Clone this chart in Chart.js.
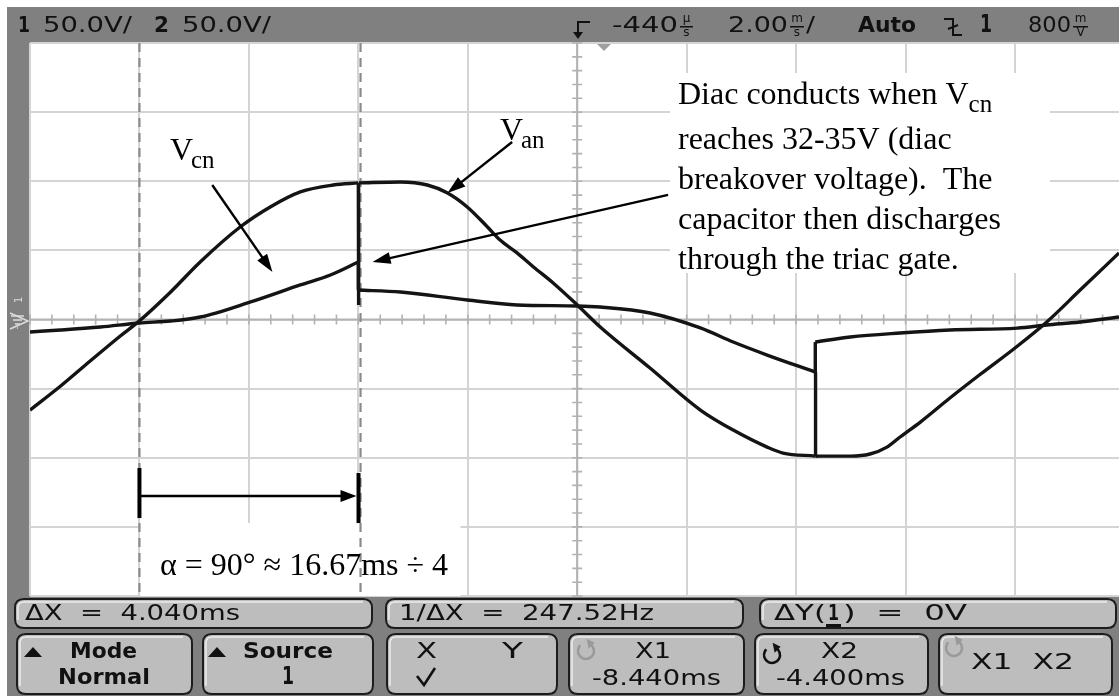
<!DOCTYPE html>
<html><head><meta charset="utf-8">
<script src="https://cdn.jsdelivr.net/npm/chart.js@4.4.1/dist/chart.umd.min.js"></script>
<style>html,body{margin:0;padding:0;background:#fff;overflow:hidden}</style>
</head><body>
<canvas id="c" width="1119" height="696"></canvas>
<script>
// ---- data (time in ms, voltage in V) ----
const tVan = [-10.44,-9.88,-9.34,-8.79,-8.44,-7.87,-7.33,-6.60,-6.05,-5.50,-4.90,-4.44,-4.44,-4.43,-3.67,-3.18,-2.81,-2.45,-2.08,-1.85,-1.54,-1.24,-0.88,-0.44,-0.02,0.89,1.81,2.41,3.03,3.32,3.91,3.91,3.92,4.55,4.91,5.22,5.46,5.83,6.37,6.92,7.56,8.14,8.75,9.46];
const vVan = [-65.5,-48.1,-30.0,-11.9,-1.0,19.9,41.6,66.9,81.4,92.3,97.3,98.8,10.5,98.8,99.5,97.3,91.5,81.4,66.9,57.5,48.2,38.0,26.4,10.5,-5.4,-35.1,-65.5,-80.0,-92.3,-96.6,-98.8,-38.0,-98.8,-98.8,-97.3,-92.3,-85.0,-74.2,-56.8,-39.8,-20.6,-1.8,21.3,48.1];
const tVcn = [-10.44,-9.88,-9.15,-8.44,-7.87,-7.33,-6.41,-5.50,-4.95,-4.44,-4.44,-3.67,-2.45,-1.54,-0.44,-0.02,0.89,1.81,2.41,3.03,3.91,3.91,4.55,5.46,6.37,7.60,8.14,8.75,9.46];
const vVcn = [-9.0,-7.6,-5.4,-2.5,-1.1,1.8,12.7,25.0,32.2,41.6,21.3,19.9,14.1,10.5,9.8,9.0,4.7,-6.1,-16.3,-25.7,-38.0,-16.3,-12.7,-9.8,-7.6,-6.2,-4.0,-1.8,1.8];
const timeTicks = [-10.44,-8.44,-6.44,-4.44,-2.44,-0.44,1.56,3.56,5.56,7.56];
const voltTicks = [-200,-150,-100,-50,0,50,100,150,200];
const timeRange = [-10.44, 9.46];
const voltRange = [-200, 200];
const cursorX1 = -8.44, cursorX2 = -4.40;
const centerTime = -0.44;
const diacLines = ["Diac conducts when V","reaches 32-35V (diac","breakover voltage).  The","capacitor then discharges","through the triac gate."];

const SERIF = '"Liberation Serif","Times New Roman",serif';
const SANS = '"DejaVu Sans",sans-serif';

// split a trace into smooth runs and near-vertical switching edges
function traceDatasets(ts, vs, label){
  const isJump = i => (ts[i+1] - ts[i]) < 0.015;
  const out = []; let start = 0;
  for (let i = 0; i < ts.length - 1; i++){
    const j = isJump(i);
    const last = i === ts.length - 2;
    if (last || isJump(i+1) !== j){
      const pts = [];
      for (let k = start; k <= i+1; k++) pts.push({ x: ts[k], y: vs[k] });
      out.push({ label: label, data: pts, borderColor: '#141414', borderWidth: 3.4, pointRadius: 0,
                 fill: false, tension: 0, cubicInterpolationMode: j ? 'default' : 'monotone' });
      start = i+1;
    }
  }
  return out;
}

function fitText(ctx, s, x, y, w, font, color){
  ctx.save(); ctx.font = font; ctx.fillStyle = color || '#111';
  ctx.textBaseline = 'middle'; ctx.textAlign = 'left';
  const m = ctx.measureText(s).width; const k = w / m;
  ctx.translate(x, y); ctx.scale(k, 1); ctx.fillText(s, 0, 0); ctx.restore();
}
function rrect(ctx, x, y, w, h, r){
  ctx.beginPath(); ctx.moveTo(x+r,y); ctx.lineTo(x+w-r,y); ctx.quadraticCurveTo(x+w,y,x+w,y+r);
  ctx.lineTo(x+w,y+h-r); ctx.quadraticCurveTo(x+w,y+h,x+w-r,y+h); ctx.lineTo(x+r,y+h);
  ctx.quadraticCurveTo(x,y+h,x,y+h-r); ctx.lineTo(x,y+r); ctx.quadraticCurveTo(x,y,x+r,y); ctx.closePath();
}
function key(ctx, x1, y1, x2, y2){
  rrect(ctx, x1, y1, x2-x1, y2-y1, 9);
  ctx.fillStyle = '#bdbdbd'; ctx.fill();
  ctx.lineWidth = 2; ctx.strokeStyle = '#1c1c1c'; ctx.stroke();
  ctx.save(); ctx.strokeStyle = '#ececec'; ctx.lineWidth = 1.5;
  ctx.beginPath(); ctx.moveTo(x1+3, y2-8); ctx.lineTo(x1+3, y1+9); ctx.quadraticCurveTo(x1+3,y1+3,x1+9,y1+3); ctx.lineTo(x2-9, y1+3); ctx.stroke();
  ctx.restore();
}
function arrowLine(ctx, x1, y1, x2, y2, head){
  const a = Math.atan2(y2-y1, x2-x1); head = head || 18;
  ctx.save(); ctx.strokeStyle = '#000'; ctx.fillStyle = '#000'; ctx.lineWidth = 2.4;
  ctx.beginPath(); ctx.moveTo(x1,y1); ctx.lineTo(x2 - Math.cos(a)*head*0.8, y2 - Math.sin(a)*head*0.8); ctx.stroke();
  ctx.beginPath(); ctx.moveTo(x2,y2);
  ctx.lineTo(x2 - head*Math.cos(a) + 6*Math.sin(a), y2 - head*Math.sin(a) - 6*Math.cos(a));
  ctx.lineTo(x2 - head*Math.cos(a) - 6*Math.sin(a), y2 - head*Math.sin(a) + 6*Math.cos(a));
  ctx.closePath(); ctx.fill(); ctx.restore();
}
function circArrow(ctx, cx, cy, r, color){
  ctx.save(); ctx.strokeStyle = color; ctx.fillStyle = color; ctx.lineWidth = 2.6;
  ctx.beginPath(); ctx.arc(cx, cy, r, -0.35*Math.PI, 1.25*Math.PI); ctx.stroke();
  const ex = cx + r*Math.cos(-0.35*Math.PI), ey = cy + r*Math.sin(-0.35*Math.PI);
  ctx.beginPath(); ctx.moveTo(ex+5, ey-1); ctx.lineTo(ex-3, ey-5); ctx.lineTo(ex-1, ey+5); ctx.closePath(); ctx.fill();
  ctx.restore();
}
function stacked(ctx, top, bot, x, w){
  ctx.save(); ctx.font = '12px ' + SANS; ctx.fillStyle = '#111'; ctx.textAlign = 'center'; ctx.textBaseline = 'middle';
  ctx.fillText(top, x + w/2, 19); ctx.fillText(bot, x + w/2, 33);
  ctx.fillRect(x+1, 26, w-2, 1.5); ctx.restore();
}

const scopePlugin = {
  id: 'scope',
  beforeDraw(chart){
    const ctx = chart.ctx; const W = chart.width, H = chart.height; const a = chart.chartArea;
    ctx.save();
    ctx.fillStyle = '#fff'; ctx.fillRect(0,0,W,H);
    ctx.fillStyle = '#808080';
    ctx.fillRect(7, 7, W-7, a.top-7);
    ctx.fillRect(7, a.top, a.left-7, a.bottom-a.top);
    ctx.fillRect(7, a.bottom, W-7, H-a.bottom);
    ctx.restore();
  },
  beforeDatasetsDraw(chart){
    const ctx = chart.ctx, xs = chart.scales.x, ys = chart.scales.y, a = chart.chartArea;
    ctx.save();
    ctx.fillStyle = '#fff';
    ctx.fillRect(670, 73, 380, 200);
    ctx.fillRect(xs.getPixelForValue(cursorX1)+1, 523, 320, a.bottom-523);
    const cx = xs.getPixelForValue(centerTime), cy = ys.getPixelForValue(0);
    ctx.strokeStyle = '#b2b2b2'; ctx.lineWidth = 2;
    ctx.beginPath(); ctx.moveTo(a.left, cy); ctx.lineTo(a.right, cy); ctx.moveTo(cx, a.top); ctx.lineTo(cx, a.bottom); ctx.stroke();
    ctx.lineWidth = 1.6;
    ctx.beginPath();
    for (let t = timeRange[0]; t <= timeRange[1] + 1e-6; t += 0.4){ const p = xs.getPixelForValue(t); ctx.moveTo(p, cy-5); ctx.lineTo(p, cy+5); }
    for (let v = voltRange[0]; v <= voltRange[1] + 1e-6; v += 10){ const p = ys.getPixelForValue(v); ctx.moveTo(cx-5, p); ctx.lineTo(cx+5, p); }
    ctx.stroke();
    ctx.strokeStyle = '#8a8a8a'; ctx.lineWidth = 2.2; ctx.setLineDash([9,6]);
    [cursorX1, cursorX2].forEach(t => { const p = xs.getPixelForValue(t); ctx.beginPath(); ctx.moveTo(p, a.top); ctx.lineTo(p, a.bottom); ctx.stroke(); });
    ctx.setLineDash([]);
    ctx.fillStyle = '#a0a0a0';
    ctx.beginPath(); ctx.moveTo(597, a.top+1); ctx.lineTo(611, a.top+1); ctx.lineTo(604, a.top+8); ctx.closePath(); ctx.fill();
    ctx.restore();
  },
  afterDraw(chart){
    const ctx = chart.ctx, xs = chart.scales.x, ys = chart.scales.y;
    const X = t => xs.getPixelForValue(t), Y = v => ys.getPixelForValue(v);
    ctx.save();
    ctx.fillStyle = '#000'; ctx.textBaseline = 'alphabetic'; ctx.textAlign = 'left';
    ctx.font = '32px ' + SERIF; ctx.fillText('V', 170, 160);
    ctx.font = '25px ' + SERIF; ctx.fillText('cn', 191, 168);
    ctx.font = '32px ' + SERIF; ctx.fillText('V', 500, 140);
    ctx.font = '25px ' + SERIF; ctx.fillText('an', 521, 148);
    const base = [104, 149, 189, 229, 269];
    ctx.font = '32px ' + SERIF;
    diacLines.forEach((s, i) => ctx.fillText(s, 678, base[i]));
    const w1 = ctx.measureText(diacLines[0]).width;
    ctx.font = '25px ' + SERIF; ctx.fillText('cn', 678 + w1, 112);
    ctx.font = '32px ' + SERIF;
    ctx.fillText('\u03B1 = 90\u00B0 \u2248 16.67ms \u00F7 4', 160, 575);
    arrowLine(ctx, X(-7.11), Y(97.3), X(-6.01), Y(34.4));
    arrowLine(ctx, X(-1.63), Y(128.4), X(-2.81), Y(91.5));
    arrowLine(ctx, X(1.22), Y(90.1), X(-4.18), Y(41.6));
    const ay = Y(-127.7), ax1 = X(cursorX1), ax2 = X(cursorX2) - 2;
    ctx.fillStyle = '#000';
    ctx.fillRect(ax1-2, ay-28, 4, 50);
    ctx.fillRect(ax2-2, ay-23, 4, 50);
    arrowLine(ctx, ax1, ay, ax2-2, ay, 16);

    fitText(ctx, '1', 18, 26, 12, 'bold 22px ' + SANS);
    fitText(ctx, '50.0V/', 43, 26, 89, '22px ' + SANS);
    fitText(ctx, '2', 154, 26, 15, 'bold 22px ' + SANS);
    fitText(ctx, '50.0V/', 182, 26, 89, '22px ' + SANS);
    ctx.strokeStyle = '#111'; ctx.lineWidth = 2;
    ctx.beginPath(); ctx.moveTo(590, 22); ctx.lineTo(578, 22); ctx.lineTo(578, 36); ctx.stroke();
    ctx.beginPath(); ctx.moveTo(573, 32); ctx.lineTo(583, 32); ctx.lineTo(578, 39); ctx.closePath(); ctx.fillStyle = '#111'; ctx.fill();
    fitText(ctx, '-440', 612, 26, 66, '22px ' + SANS);
    stacked(ctx, '\u00B5', 's', 679, 15);
    fitText(ctx, '2.00', 728, 26, 60, '22px ' + SANS);
    stacked(ctx, 'm', 's', 789, 16);
    fitText(ctx, '/', 806, 26, 9, '22px ' + SANS);
    fitText(ctx, 'Auto', 858, 26, 58, 'bold 22px ' + SANS);
    ctx.beginPath(); ctx.moveTo(944, 19); ctx.lineTo(953, 19); ctx.lineTo(953, 35); ctx.lineTo(962, 35); ctx.moveTo(948, 29); ctx.lineTo(958, 25); ctx.stroke();
    fitText(ctx, '1', 980, 26, 12, 'bold 24px ' + SANS);
    fitText(ctx, '800', 1028, 26, 43, '22px ' + SANS);
    stacked(ctx, 'm', 'V', 1072, 17);

    ctx.fillStyle = '#dcdcdc'; ctx.strokeStyle = '#dcdcdc'; ctx.lineWidth = 1.5;
    ctx.font = '10px ' + SANS;
    ctx.save(); ctx.translate(19, 300); ctx.rotate(-Math.PI/2); ctx.fillText('1', -3, 3); ctx.restore();
    ctx.beginPath(); ctx.moveTo(10, 313); ctx.lineTo(28, 321); ctx.lineTo(10, 329); ctx.stroke();
    ctx.beginPath(); for (let i = 0; i < 4; i++){ ctx.moveTo(11+i*2, 316+i*4); ctx.lineTo(24-i*2, 316+i*4); } ctx.stroke();

    key(ctx, 15, 599, 372, 628);
    key(ctx, 386, 599, 743, 628);
    key(ctx, 760, 599, 1116, 628);
    fitText(ctx, '\u0394X  =  4.040ms', 25, 614, 215, '22px ' + SANS);
    fitText(ctx, '1/\u0394X  =  247.52Hz', 399, 614, 255, '22px ' + SANS);
    fitText(ctx, '\u0394Y(', 774, 614, 52, '22px ' + SANS);
    fitText(ctx, '1', 828, 614, 11, 'bold 22px ' + SANS);
    ctx.fillStyle = '#111'; ctx.fillRect(826, 624, 15, 3);
    fitText(ctx, ')  =  0V', 843, 614, 124, '22px ' + SANS);

    key(ctx, 17, 634, 192, 694);
    key(ctx, 203, 634, 373, 694);
    key(ctx, 387, 634, 557, 694);
    key(ctx, 569, 634, 744, 694);
    key(ctx, 755, 634, 928, 694);
    key(ctx, 939, 634, 1112, 694);
    ctx.fillStyle = '#111';
    [[24,42],[208,226]].forEach(([l,r]) => { ctx.beginPath(); ctx.moveTo(l,657); ctx.lineTo(r,657); ctx.lineTo((l+r)/2,647); ctx.closePath(); ctx.fill(); });
    fitText(ctx, 'Mode', 70, 652, 67, 'bold 22px ' + SANS);
    fitText(ctx, 'Normal', 58, 678, 92, 'bold 22px ' + SANS);
    fitText(ctx, 'Source', 243, 652, 90, 'bold 22px ' + SANS);
    fitText(ctx, '1', 282, 678, 12, 'bold 24px ' + SANS);
    fitText(ctx, 'X', 416, 652, 21, '22px ' + SANS);
    fitText(ctx, 'Y', 502, 652, 21, '22px ' + SANS);
    ctx.strokeStyle = '#111'; ctx.lineWidth = 2.6;
    ctx.beginPath(); ctx.moveTo(417, 676); ctx.lineTo(424, 685); ctx.lineTo(435, 668); ctx.stroke();
    circArrow(ctx, 586, 651, 8, '#9a9a9a');
    fitText(ctx, 'X1', 635, 652, 36, '22px ' + SANS);
    fitText(ctx, '-8.440ms', 592, 679, 129, '22px ' + SANS);
    circArrow(ctx, 772, 655, 8, '#111');
    fitText(ctx, 'X2', 821, 652, 37, '22px ' + SANS);
    fitText(ctx, '-4.400ms', 776, 679, 129, '22px ' + SANS);
    circArrow(ctx, 954, 648, 8, '#9a9a9a');
    fitText(ctx, 'X1  X2', 971, 663, 103, '22px ' + SANS);
    ctx.restore();
  }
};

new Chart(document.getElementById('c'), {
  type: 'line',
  data: { datasets: traceDatasets(tVan, vVan, 'Van').concat(traceDatasets(tVcn, vVcn, 'Vcn')) },
  options: {
    responsive: false, animation: false, devicePixelRatio: 1,
    layout: { padding: { left: 30, top: 43, right: 0, bottom: 100 } },
    plugins: { legend: { display: false }, tooltip: { enabled: false } },
    scales: {
      x: { type: 'linear', min: timeRange[0], max: timeRange[1],
           afterBuildTicks: s => { s.ticks = timeTicks.map(v => ({ value: v })); },
           ticks: { display: false }, border: { display: false },
           grid: { color: '#d4d4d4', lineWidth: 2, drawTicks: false } },
      y: { type: 'linear', min: voltRange[0], max: voltRange[1],
           afterBuildTicks: s => { s.ticks = voltTicks.map(v => ({ value: v })); },
           ticks: { display: false }, border: { display: false },
           grid: { color: '#d4d4d4', lineWidth: 2, drawTicks: false } }
    }
  },
  plugins: [scopePlugin]
});
</script>
</body></html>
